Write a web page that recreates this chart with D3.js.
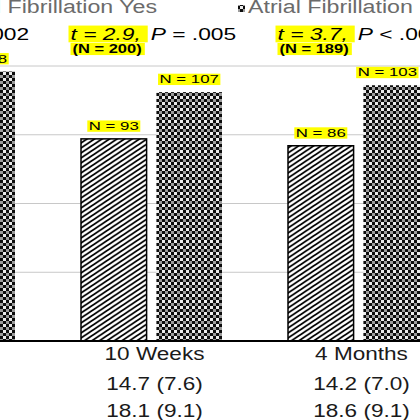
<!DOCTYPE html>
<html>
<head>
<meta charset="utf-8">
<script src="https://cdn.jsdelivr.net/npm/d3@7"></script>
<style>
body { margin: 0; background: #fff; }
svg { display: block; font-family: "Liberation Sans", Arial, sans-serif; }
</style>
</head>
<body>
<svg id="chart" width="420" height="420"></svg>
<script>
// chart data
const groups = ["Baseline", "10 Weeks", "4 Months"];
const seriesNames = ["Atrial Fibrillation Yes", "Atrial Fibrillation No"];
const meansYes = [15.9, 14.7, 14.2];
const sdYes = [8.1, 7.6, 7.0];
const meansNo = [19.6, 18.1, 18.6];
const sdNo = [9.4, 9.1, 9.1];
const nYes = [108, 93, 86];
const nNo = [98, 107, 103];
const nTotal = [206, 200, 189];
const tValues = ["3.2", "2.9", "3.7"];
const pSigns = ["=", "=", "<"];
const pValues = [".002", ".005", ".001"];
const yTicks = [0, 5, 10, 15, 20];

let svg = d3.select("#chart");
svg.append("rect").attr("width", 420).attr("height", 420).attr("fill", "#fff");

let defs = svg.append("defs");
let hatch = defs.append("pattern")
    .attr("id", "hatch")
    .attr("patternUnits", "userSpaceOnUse")
    .attr("width", 7.5)
    .attr("height", 5);
hatch.append("rect").attr("width", 7.5).attr("height", 5).attr("fill", "#fff");
hatch.append("path")
    .attr("d", "M0,5 L7.5,0 M-3.75,2.5 L3.75,-2.5 M3.75,7.5 L11.25,2.5")
    .attr("stroke", "#000")
    .attr("stroke-width", 1.8);

// speckled checker fill
let dots = defs.append("pattern")
    .attr("id", "dots")
    .attr("patternUnits", "userSpaceOnUse")
    .attr("width", 6)
    .attr("height", 6);
dots.append("rect").attr("width", 6).attr("height", 6).attr("fill", "#0d0d0d");
dots.append("rect").attr("x", 0).attr("y", 0).attr("width", 3).attr("height", 3).attr("fill", "#ececec");
dots.append("rect").attr("x", 3).attr("y", 3).attr("width", 3).attr("height", 3).attr("fill", "#9c9c9c");

let fills = ["url(#hatch)", "url(#dots)"];

let x0 = d3.scaleBand().domain(groups).range([-159, 462]);
let x1 = d3.scaleBand().domain(seriesNames).range([33, 174]).paddingInner(0.13);
let y = d3.scaleLinear().domain([0, 20]).range([341, 66]);

// text drawn with a horizontal stretch, like the reference
function stretchText(parent, x, yy, str, size, sx) {
    return parent.append("text")
        .attr("transform", `translate(${x},${yy}) scale(${sx},1)`)
        .style("font-size", size + "px")
        .text(str);
}

function highlight(parent, textSel, sx, padL, padR) {
    let bb = textSel.node().getBBox();
    let tr = textSel.node().transform.baseVal.consolidate().matrix;
    parent.insert("rect", ":first-child")
        .attr("x", tr.e + bb.x * sx - padL)
        .attr("y", tr.f + bb.y + 1)
        .attr("width", bb.width * sx + padL + padR)
        .attr("height", bb.height - 1.5)
        .attr("fill", "#ffff00");
}

// gridlines
svg.append("g").selectAll("line")
    .data(yTicks.filter(d => d > 0))
    .join("line")
    .attr("x1", 0).attr("x2", 420)
    .attr("y1", d => y(d)).attr("y2", d => y(d))
    .attr("stroke", "#c8c8c8")
    .attr("stroke-width", 1);

// bars
let rows = groups.map((g, i) => ({
    group: g,
    bars: [
        {s: seriesNames[0], v: meansYes[i], n: nYes[i], k: 0},
        {s: seriesNames[1], v: meansNo[i], n: nNo[i], k: 1}
    ]
}));

let gGroups = svg.append("g").selectAll("g")
    .data(rows)
    .join("g")
    .attr("transform", d => `translate(${x0(d.group)},0)`);

gGroups.selectAll("rect")
    .data(d => d.bars)
    .join("rect")
    .attr("x", d => x1(d.s))
    .attr("y", d => y(d.v))
    .attr("width", x1.bandwidth())
    .attr("height", d => y(0) - y(d.v))
    .attr("fill", d => fills[d.k])
    .attr("stroke", d => d.k == 0 ? "#000" : "none")
    .attr("stroke-width", 1.5);

// N labels above bars, kept inside the right edge
rows.forEach(r => {
    r.bars.forEach(b => {
        let cx = x0(r.group) + x1(b.s) + x1.bandwidth() / 2;
        let lg = svg.append("g");
        let t = stretchText(lg, cx, y(b.v) - 9, `N = ${b.n}`, 11.6, 1.45)
            .attr("text-anchor", "middle")
            .attr("fill", "#000");
        let half = t.node().getBBox().width * 1.45 / 2;
        if (cx + half > 417) {
            cx = 417 - half;
            t.attr("transform", `translate(${cx},${y(b.v) - 9}) scale(1.45,1)`);
        }
        highlight(lg, t, 1.45, 1.5, 1.5);
    });
});

// baseline
svg.append("line")
    .attr("x1", 0).attr("x2", 420)
    .attr("y1", y(0)).attr("y2", y(0))
    .attr("stroke", "#000")
    .attr("stroke-width", 2);

// statistics above each group
groups.forEach((g, i) => {
    let cx = x0(g) + x0.bandwidth() / 2;
    let sx = 1.38;
    let sg = svg.append("g");
    let t1 = stretchText(sg, cx - 81, 39.5, `t = ${tValues[i]},`, 16.5, sx)
        .style("font-style", "italic")
        .attr("fill", "#000");
    highlight(sg, t1, sx, 2, 7);
    let w1 = t1.node().getBBox().width * sx;
    let t2 = stretchText(sg, cx - 81 + w1 + 10, 39.5, "", 16.5, sx).attr("fill", "#000");
    t2.append("tspan").style("font-style", "italic").text("P");
    t2.append("tspan").text(` ${pSigns[i]} ${pValues[i]}`);

    let ng = svg.append("g");
    let t3 = stretchText(ng, cx - 79, 53, `(N = ${nTotal[i]})`, 12.5, 1.32)
        .style("font-weight", "bold")
        .attr("fill", "#000");
    highlight(ng, t3, 1.32, 2, 3);
});

// category labels and table values
groups.forEach((g, i) => {
    let cx = x0(g) + x0.bandwidth() / 2 + 3;
    stretchText(svg, cx, 360, g, 18.5, 1.22).attr("text-anchor", "middle").attr("fill", "#1a1a1a");
    stretchText(svg, cx, 390, `${meansYes[i].toFixed(1)} (${sdYes[i].toFixed(1)})`, 18.5, 1.22)
        .attr("text-anchor", "middle").attr("fill", "#1a1a1a");
    stretchText(svg, cx, 417, `${meansNo[i].toFixed(1)} (${sdNo[i].toFixed(1)})`, 18.5, 1.22)
        .attr("text-anchor", "middle").attr("fill", "#1a1a1a");
});

// legend
let leg = svg.append("g");
let legText0 = stretchText(leg, 157, 13, seriesNames[0], 19, 1.22)
    .attr("text-anchor", "end")
    .attr("fill", "#6b6b6b");
let lw = legText0.node().getBBox().width * 1.22;
leg.append("rect")
    .attr("x", 157 - lw - 10).attr("y", 5)
    .attr("width", 7).attr("height", 7)
    .attr("fill", fills[0]).attr("stroke", "#000");
leg.append("rect")
    .attr("x", 238).attr("y", 5)
    .attr("width", 7).attr("height", 7)
    .attr("fill", fills[1]);
stretchText(leg, 248, 13, seriesNames[1], 19, 1.22).attr("fill", "#6b6b6b");
</script>
</body>
</html>
